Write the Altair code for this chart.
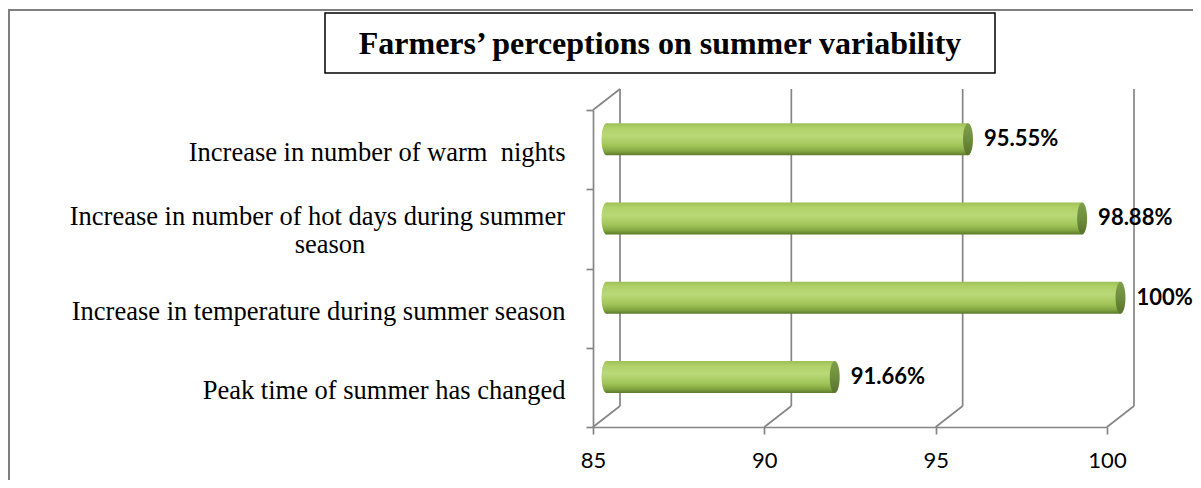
import json
import altair as alt
import pandas as pd

# ---------------- data ----------------
categories = [
    "Increase in number of warm \u00a0nights",
    "Increase in number of hot days during summer season",
    "Increase in temperature during summer season",
    "Peak time of summer has changed",
]
label_line1 = [
    "Increase in number of warm \u00a0nights",
    "Increase in number of hot days during summer",
    "Increase in temperature during summer season",
    "Peak time of summer has changed",
]
label_line2 = ["", "season", "", ""]
values = [95.55, 98.88, 100.0, 91.66]
value_labels = ["95.55%", "98.88%", "100%", "91.66%"]
x_ticks = [85, 90, 95, 100]
x_min, x_max = 85, 100
title_text = "Farmers\u2019 perceptions on summer variability"

# ---------------- layout / style ----------------
W, H = 514, 317          # front plane of the 3-D plot
DX, DY = 27, 21          # depth offset of back wall
MX, MY = DX / 2, DY / 2  # bars sit in the middle of the depth
GRID = "#858585"
GW = 1.7
LABEL_FONT = "Liberation Serif"
LABEL_SIZE = 26.5

body_grad = alt.Gradient(
    gradient="linear", x1=0, x2=0, y1=0, y2=1,
    stops=[
        alt.GradientStop(color="#9dbf55", offset=0),
        alt.GradientStop(color="#b0d068", offset=0.15),
        alt.GradientStop(color="#b9d978", offset=0.4),
        alt.GradientStop(color="#a2c559", offset=0.7),
        alt.GradientStop(color="#82a542", offset=0.88),
        alt.GradientStop(color="#5d7a2b", offset=1),
    ],
)
cap_grad = alt.Gradient(
    gradient="linear", x1=0, x2=0, y1=0, y2=1,
    stops=[
        alt.GradientStop(color="#809f4a", offset=0),
        alt.GradientStop(color="#6f8e3d", offset=0.5),
        alt.GradientStop(color="#58722b", offset=1),
    ],
)
cap_path = "M0,-1A0.31,1,0,1,1,0,1A0.31,1,0,1,1,0,-1Z"
BAR = 32

df = pd.DataFrame({
    "cat": categories,
    "value": values,
    "base": [x_min] * len(values),
    "label": value_labels,
    "line1": label_line1,
    "line2": label_line2,
})
ticks_df = pd.DataFrame({"t": x_ticks})
corner_df = pd.DataFrame({"t": [x_min]})
one = pd.DataFrame({"title": [title_text]})

xscale = alt.Scale(domain=[x_min, x_max], nice=False, zero=False)
yscale = alt.Scale(domain=categories, paddingInner=0, paddingOuter=0)

# two-line labels are drawn by text layers; the axis shows the one-line ones
multi = [c for c, l2 in zip(categories, label_line2) if l2]
label_expr = "indexof(" + json.dumps(multi) + ", datum.value) >= 0 ? '' : datum.value"

xaxis = alt.Axis(
    values=x_ticks, title=None, grid=False, domainColor=GRID, domainWidth=GW,
    tickColor=GRID, tickWidth=GW, tickSize=7, labelFont="Lato", labelFontSize=22,
    labelColor="black", labelPadding=16, labelFlush=False,
)
yaxis = alt.Axis(
    title=None, grid=False, domainColor=GRID, domainWidth=GW, tickColor=GRID,
    tickWidth=GW, tickSize=7, tickBand="extent", labelFont=LABEL_FONT,
    labelFontSize=LABEL_SIZE, labelColor="black", labelPadding=21, labelLimit=700,
    labelOffset=3, labelExpr=label_expr,
)


def X(field):
    return alt.X(field, scale=xscale, axis=xaxis)


def Y(field):
    return alt.Y(field, scale=yscale, axis=yaxis)


# ---------------- decorations ----------------
frame = alt.Chart(one).mark_rect(fillOpacity=0, stroke="#7f7f7f", strokeWidth=2).encode(
    x=alt.value(-584), y=alt.value(-100), x2=alt.value(900), y2=alt.value(600)
)
title_box = alt.Chart(one).mark_rect(fill="white", stroke="black", strokeWidth=1.5).encode(
    x=alt.value(-268), x2=alt.value(402), y=alt.value(-97), y2=alt.value(-37)
)
title = alt.Chart(one).mark_text(
    font="Liberation Serif", fontSize=32, fontWeight="bold", align="center",
    baseline="middle", color="black",
).encode(x=alt.value(67), y=alt.value(-66), text="title:N")

back = alt.Chart(ticks_df).mark_rule(color=GRID, strokeWidth=GW, xOffset=DX).encode(
    x=X("t:Q"), y=alt.value(-DY), y2=alt.value(H - DY)
)
floor = alt.Chart(ticks_df).mark_rule(color=GRID, strokeWidth=GW, x2Offset=DX).encode(
    x=X("t:Q"), x2="t:Q", y=alt.value(H), y2=alt.value(H - DY)
)
top_left = alt.Chart(corner_df).mark_rule(color=GRID, strokeWidth=GW, x2Offset=DX).encode(
    x=X("t:Q"), x2="t:Q", y=alt.value(0), y2=alt.value(-DY)
)

# ---------------- bars (cylinders) ----------------
left_cap = alt.Chart(df).mark_point(
    shape=cap_path, size=BAR * BAR, filled=True, fill=body_grad, opacity=1,
    xOffset=MX, yOffset=-MY,
).encode(x=X("base:Q"), y=Y("cat:N"))

bars = alt.Chart(df).mark_bar(
    fill=body_grad, size=BAR, xOffset=MX, x2Offset=MX, yOffset=-MY, y2Offset=-MY,
).encode(x=X("value:Q"), x2="base:Q", y=Y("cat:N"))

right_cap = alt.Chart(df).mark_point(
    shape=cap_path, size=BAR * BAR, filled=True, fill=cap_grad, opacity=1,
    xOffset=MX, yOffset=-MY,
).encode(x=X("value:Q"), y=Y("cat:N"))

labels = alt.Chart(df).mark_text(
    align="left", baseline="middle", font="Lato", fontSize=22, fontWeight="bold",
    color="black", dx=MX + 16, dy=-MY,
).encode(x=X("value:Q"), y=Y("cat:N"), text="label:N")

# two-line category label: first line right-aligned like the axis labels,
# second line centred under it
multi_l1 = alt.Chart(df).transform_filter("datum.line2 != ''").mark_text(
    align="right", baseline="middle", font=LABEL_FONT, fontSize=LABEL_SIZE,
    color="black", dy=-12,
).encode(x=alt.value(-28), y=Y("cat:N"), text="line1:N")

multi_l2 = alt.Chart(df).transform_filter("datum.line2 != ''").mark_text(
    align="center", baseline="middle", font=LABEL_FONT, fontSize=LABEL_SIZE,
    color="black", dy=16,
).encode(x=alt.value(-263), y=Y("cat:N"), text="line2:N")

chart = alt.layer(
    frame, title_box, title, back, floor, top_left, left_cap, bars, right_cap,
    labels, multi_l1, multi_l2,
).properties(
    width=W, height=H,
    autosize=alt.AutoSizeParams(type="none"),
    padding={"left": 585, "top": 102, "right": 86, "bottom": 53},
).configure_view(strokeOpacity=0)

chart.save("out.html", embed_options={"renderer": "svg", "actions": False})
